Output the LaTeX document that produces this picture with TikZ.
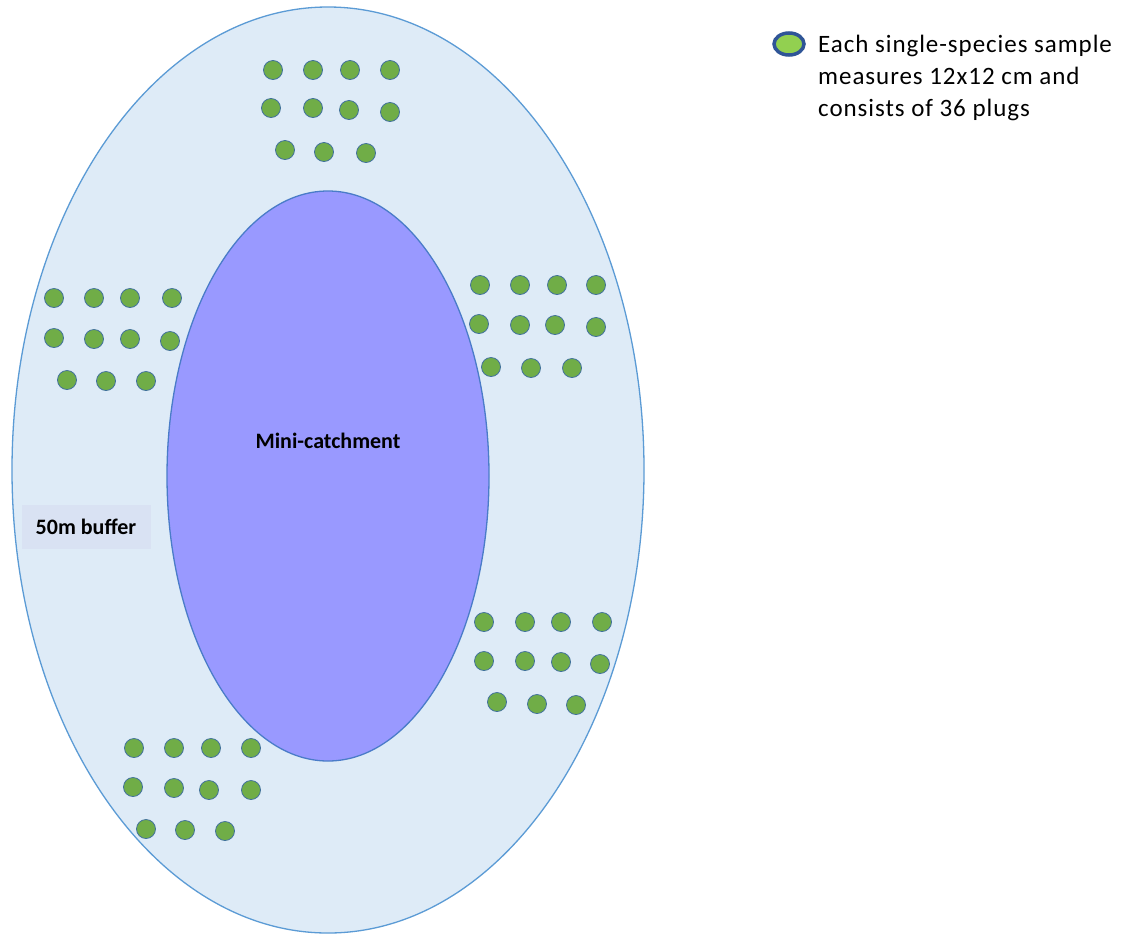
\documentclass[tikz,border=0pt]{standalone}
\usepackage{fontspec}
\setmainfont{Carlito}
\usetikzlibrary{shapes.geometric}
\definecolor{bufferfill}{HTML}{DEEBF7}
\definecolor{bufferline}{HTML}{5B9BD5}
\definecolor{catchfill}{HTML}{9999FF}
\definecolor{catchline}{HTML}{4A7CC8}
\definecolor{plugfill}{HTML}{70AD47}
\definecolor{plugline}{HTML}{41719C}
\definecolor{labelfill}{HTML}{D9E2F3}
\definecolor{legline}{HTML}{2F5597}
\definecolor{legfill}{HTML}{92D050}
\tikzset{
  plug/.style={circle, draw=plugline, fill=plugfill, line width=0.8pt, minimum size=19pt, inner sep=0pt},
  bufferzone/.style={ellipse, draw=bufferline, fill=bufferfill, line width=1.3pt, minimum width=632pt, minimum height=926pt, inner sep=0pt},
  catchzone/.style={ellipse, draw=catchline, fill=catchfill, line width=1.3pt, minimum width=322pt, minimum height=570pt, inner sep=0pt},
  lbl/.style={font=\fontsize{22}{26}\selectfont\bfseries, text=black}
}
\begin{document}
\begin{tikzpicture}[x=1pt,y=-1pt]
\useasboundingbox (0,0) rectangle (1123,935);
\fill[white] (0,0) rectangle (1123,935);
\node[bufferzone] (buffer) at (328,470) {};
\node[catchzone] (catch) at (328,476) {};
\node[lbl] (catchlbl) at (328,441) {Mini-catchment};
\node[lbl, fill=labelfill, minimum width=129pt, minimum height=44pt, inner sep=0pt] (bufflbl) at (86,527) {50m buffer};
% top group
\foreach \x/\y [count=\i] in {273/70,313/70,350/70,390/70,271/108,313/108,349/110,390/112,285/150,324/152,366/153}
  \node[plug] (t\i) at (\x,\y) {};
% left group
\foreach \x/\y [count=\i] in {54/298,94/298,130/298,172/298,54/338,94/339,130/339,170/341,67/380,106/381,146/381}
  \node[plug] (l\i) at (\x,\y) {};
% right upper group
\foreach \x/\y [count=\i] in {480/285,520/285,557/285,596/285,479/324,520/325,555/325,596/327,491/367,531/368,572/368}
  \node[plug] (ru\i) at (\x,\y) {};
% right lower group
\foreach \x/\y [count=\i] in {484/622,525/622,561/622,602/622,484/661,525/661,561/662,600/664,497/702,537/704,576/705}
  \node[plug] (rl\i) at (\x,\y) {};
% bottom group
\foreach \x/\y [count=\i] in {134/748,174/748,211/748,251/748,133/787,174/788,209/790,251/790,146/829,185/830,225/831}
  \node[plug] (b\i) at (\x,\y) {};
% legend
\node[ellipse, draw=legline, fill=legfill, line width=3.5pt, minimum width=30pt, minimum height=22pt, inner sep=0pt] (legdot) at (789,44) {};
\node[anchor=north west, align=left, inner sep=0pt, font=\fontsize{25}{32}\selectfont\addfontfeature{LetterSpace=3.8}] (legtext) at (818,35) {Each single-species sample\\measures 12x12 cm and\\consists of 36 plugs};
\end{tikzpicture}
\end{document}
